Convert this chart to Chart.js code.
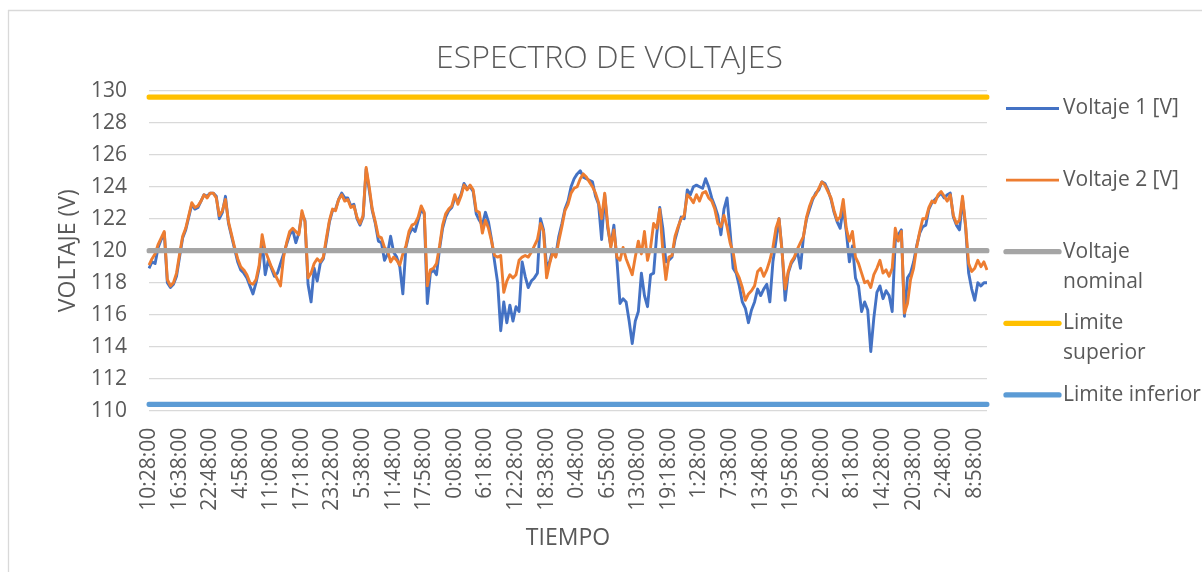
<!DOCTYPE html>
<html>
<head>
<meta charset="utf-8">
<title>Espectro de voltajes</title>
<script src="https://cdn.jsdelivr.net/npm/chart.js@4.4.0/dist/chart.umd.min.js"></script>
<style>
  html, body { margin: 0; padding: 0; background: #ffffff; }
  #wrap { position: relative; width: 1202px; height: 572px; }
</style>
</head>
<body>
<div id="wrap"><canvas id="chart" width="1202" height="572"></canvas></div>
<script>
// Muestras cada 37 minutos a partir de las 10:28:00
const START_TIME = '10:28:00';
const STEP_MINUTES = 37;
const LABEL_EVERY = 10;

const TICK_LABELS = [
  '10:28:00', '16:38:00', '22:48:00', '4:58:00', '11:08:00', '17:18:00', '23:28:00',
  '5:38:00', '11:48:00', '17:58:00', '0:08:00', '6:18:00', '12:28:00', '18:38:00',
  '0:48:00', '6:58:00', '13:08:00', '19:18:00', '1:28:00', '7:38:00', '13:48:00',
  '19:58:00', '2:08:00', '8:18:00', '14:28:00', '20:38:00', '2:48:00', '8:58:00'
];

const VOLTAJE_1 = [
  118.9, 119.3, 119.2, 120.2, 120.7, 121.1, 118.0, 117.7, 117.9, 118.4,
  119.6, 120.8, 121.3, 122.1, 122.9, 122.6, 122.7, 123.1, 123.5, 123.4,
  123.6, 123.6, 123.4, 122.0, 122.4, 123.4, 121.7, 120.9, 120.1, 119.3,
  118.8, 118.6, 118.3, 117.8, 117.3, 118.0, 118.9, 120.6, 118.5, 119.4,
  118.9, 118.4, 118.6, 119.2, 119.8, 120.4, 121.0, 121.3, 120.5, 121.1,
  122.3, 121.9, 117.9, 116.8, 118.9, 118.1, 119.2, 119.5, 120.6, 121.8,
  122.5, 122.6, 123.2, 123.6, 123.3, 123.3, 122.8, 122.9, 122.0, 121.6,
  122.1, 125.1, 123.8, 122.5, 121.7, 120.6, 120.5, 119.4, 119.8, 120.9,
  119.9, 119.6, 119.0, 117.3, 120.2, 121.0, 121.4, 121.2, 121.9, 122.6,
  122.3, 116.7, 118.6, 118.8, 118.5, 120.1, 121.4, 122.1, 122.5, 122.7,
  123.3, 123.1, 123.5, 124.2, 123.9, 124.0, 123.7, 122.3, 121.9, 121.6,
  122.4, 121.8, 120.7, 119.3, 118.0, 115.0, 116.8, 115.5, 116.6, 115.6,
  116.5, 116.2, 119.3, 118.4, 117.7, 118.1, 118.3, 118.6, 122.0, 121.3,
  119.0, 119.3, 120.1, 119.7, 120.9, 121.7, 122.6, 123.1, 124.0, 124.5,
  124.8, 125.0, 124.6, 124.5, 124.4, 124.3, 123.4, 122.9, 120.7, 123.5,
  121.4, 120.3, 121.6, 119.4, 116.7, 117.0, 116.8, 115.6, 114.2, 115.6,
  116.2, 118.6, 117.2, 116.5, 118.5, 118.6, 121.0, 122.7, 121.4, 119.3,
  119.4, 119.6, 120.7, 121.4, 122.1, 122.0, 123.8, 123.5, 124.0, 124.1,
  124.0, 123.9, 124.5, 124.0, 123.3, 122.8, 122.2, 121.0, 122.6, 123.3,
  121.2, 118.9, 118.6, 117.8, 116.8, 116.4, 115.5, 116.3, 116.8, 117.6,
  117.2, 117.6, 117.9, 116.8, 119.3, 120.6, 122.0, 120.0, 116.9, 118.6,
  119.2, 119.5, 120.0, 118.9, 120.9, 122.0, 122.6, 123.2, 123.6, 123.8,
  124.3, 124.2, 123.8, 123.2, 122.4, 121.8, 121.4, 122.7, 121.2, 119.3,
  120.3, 118.3, 117.8, 116.2, 116.8, 116.3, 113.7, 115.8, 117.4, 117.8,
  117.0, 117.5, 117.2, 116.2, 120.6, 121.0, 121.3, 115.9, 118.3, 118.6,
  119.3, 120.3, 121.1, 121.5, 121.6, 122.6, 123.0, 123.2, 123.4, 123.6,
  123.3, 123.5, 123.6, 122.1, 121.6, 121.3, 123.2, 121.5, 118.6, 117.6,
  116.9, 118.0, 117.8, 118.0, 118.0
];

const VOLTAJE_2 = [
  119.1, 119.5, 119.8, 120.4, 120.8, 121.2, 118.2, 117.8, 118.0, 118.6,
  119.8, 120.9, 121.4, 122.2, 123.0, 122.7, 122.8, 123.1, 123.5, 123.3,
  123.6, 123.6, 123.3, 122.2, 122.5, 123.2, 121.8, 121.0, 120.2, 119.5,
  119.0, 118.8, 118.5, 118.0, 117.9, 118.2, 119.1, 121.0, 120.0, 119.5,
  119.0, 118.6, 118.2, 117.8, 119.6, 120.5, 121.2, 121.4, 121.2, 121.0,
  122.5, 121.8, 118.3, 118.6, 119.2, 119.5, 119.3, 119.6, 120.8, 121.9,
  122.6, 122.5, 123.2, 123.5, 123.1, 123.2, 122.7, 122.8, 122.1, 121.7,
  122.2, 125.2, 124.0, 122.6, 121.8, 120.9, 120.8, 120.2, 120.0, 119.3,
  119.6, 119.4, 119.1, 119.8, 120.3, 121.2, 121.6, 121.7, 122.1, 122.8,
  122.4, 117.8, 118.8, 118.9, 119.2, 120.3, 121.6, 122.3, 122.6, 122.8,
  123.5, 122.9, 123.4, 124.1, 123.8, 124.1, 123.8, 122.5, 122.4, 121.1,
  121.9, 121.4, 120.6, 119.7, 119.6, 119.7, 117.4, 118.1, 118.5, 118.3,
  118.5, 119.4, 119.6, 119.7, 119.6, 119.9, 120.3, 120.7, 121.7, 121.2,
  118.3, 119.2, 119.9, 119.6, 120.6, 121.5, 122.5, 122.9, 123.6, 123.9,
  124.0, 124.5, 124.8, 124.6, 124.3, 124.0, 123.6, 123.0, 122.0, 123.6,
  121.6, 120.2, 121.3, 119.6, 119.4, 120.2, 119.5, 119.0, 118.5, 119.6,
  120.6, 119.8, 121.2, 119.4, 120.2, 121.7, 121.4, 122.6, 120.0, 118.2,
  119.6, 119.7, 120.9, 121.5, 122.0, 122.2, 123.5, 123.3, 123.0, 123.5,
  123.1, 123.6, 123.7, 123.3, 123.1, 122.6, 121.7, 121.5, 122.2, 121.5,
  120.5, 119.9, 118.7, 118.3, 117.7, 116.9, 117.3, 117.5, 117.8, 118.7,
  118.9, 118.4, 118.8, 119.4, 120.2, 121.4, 122.0, 119.9, 117.6, 118.7,
  119.3, 119.6, 120.1, 120.5, 120.9, 122.1, 122.8, 123.3, 123.5, 123.9,
  124.3, 124.1, 123.7, 123.3, 122.5, 121.9, 122.1, 123.2, 121.4, 120.6,
  121.2, 119.6, 119.2, 118.6, 118.0, 118.1, 117.7, 118.5, 118.9, 119.4,
  118.6, 118.8, 118.4, 118.9, 121.4, 120.6, 121.2, 116.1, 116.7, 118.2,
  118.9, 120.2, 121.2, 122.0, 122.0, 122.7, 123.1, 123.0, 123.5, 123.7,
  123.4, 123.1, 123.5, 122.2, 121.7, 121.9, 123.4, 121.6, 119.2, 118.7,
  118.9, 119.4, 119.0, 119.3, 118.8
];

const VOLTAJE_NOMINAL = 120;
const LIMITE_SUPERIOR = 129.6;
const LIMITE_INFERIOR = 110.4;

const Y_MIN = 110;
const Y_MAX = 130;
const Y_STEP = 2;

// Marcas de tiempo de cada muestra (categorías del eje X)
function buildTimes(start, step, count) {
  const [h, m, s] = start.split(':').map(Number);
  const base = h * 60 + m;
  const out = [];
  for (let i = 0; i < count; i++) {
    const t = (base + i * step) % (24 * 60);
    const hh = Math.floor(t / 60);
    const mm = String(t % 60).padStart(2, '0');
    out.push(hh + ':' + mm + ':' + String(s).padStart(2, '0'));
  }
  return out;
}
const CATEGORIES = buildTimes(START_TIME, STEP_MINUTES, VOLTAJE_1.length);
const constantLine = (v) => CATEGORIES.map(() => v);

const FONT = "'Open Sans', 'Liberation Sans', sans-serif";
const TEXT = '#595959';
const GRID = '#D9D9D9';

// Fondo blanco y marco exterior del gráfico
const framePlugin = {
  id: 'frame',
  beforeDraw(chart) {
    const ctx = chart.ctx;
    ctx.save();
    ctx.fillStyle = '#ffffff';
    ctx.fillRect(0, 0, chart.width, chart.height);
    ctx.strokeStyle = GRID;
    ctx.lineWidth = 1.3;
    ctx.beginPath();
    ctx.moveTo(8, 10.5);
    ctx.lineTo(chart.width, 10.5);
    ctx.moveTo(8.5, 10);
    ctx.lineTo(8.5, chart.height);
    ctx.stroke();
    ctx.restore();
  }
};

// Leyenda a la derecha, con etiquetas en una o dos líneas
const sideLegend = {
  id: 'sideLegend',
  afterDraw(chart, args, opts) {
    const ctx = chart.ctx;
    const entries = chart.data.datasets;
    ctx.save();
    ctx.font = `${opts.fontSize}px ${FONT}`;
    ctx.fillStyle = TEXT;
    ctx.textBaseline = 'middle';
    ctx.textAlign = 'left';
    entries.forEach((ds, i) => {
      const y = opts.top + i * opts.step;
      ctx.strokeStyle = ds.borderColor;
      ctx.lineWidth = ds.borderWidth;
      ctx.lineCap = ds.borderWidth > 3.5 ? 'round' : 'butt';
      ctx.beginPath();
      ctx.moveTo(opts.lineStart, y);
      ctx.lineTo(opts.lineEnd, y);
      ctx.stroke();
      const lines = ds.legendLines || [ds.label];
      lines.forEach((txt, k) => {
        ctx.fillText(txt, opts.textX, y + k * opts.lineGap);
      });
    });
    ctx.restore();
  }
};

new Chart(document.getElementById('chart'), {
  type: 'line',
  data: {
    labels: CATEGORIES,
    datasets: [
      {
        label: 'Voltaje 1 [V]', data: VOLTAJE_1,
        borderColor: '#4472C4', borderWidth: 2.9, order: 5
      },
      {
        label: 'Voltaje 2 [V]', data: VOLTAJE_2,
        borderColor: '#ED7D31', borderWidth: 2.9, order: 4
      },
      {
        label: 'Voltaje nominal', legendLines: ['Voltaje', 'nominal'],
        data: constantLine(VOLTAJE_NOMINAL),
        borderColor: '#A5A5A5', borderWidth: 5.3, borderCapStyle: 'round', order: 3
      },
      {
        label: 'Limite superior', legendLines: ['Limite', 'superior'],
        data: constantLine(LIMITE_SUPERIOR),
        borderColor: '#FFC000', borderWidth: 5.3, borderCapStyle: 'round', order: 2
      },
      {
        label: 'Limite inferior',
        data: constantLine(LIMITE_INFERIOR),
        borderColor: '#5B9BD5', borderWidth: 5.3, borderCapStyle: 'round', order: 1
      }
    ]
  },
  options: {
    responsive: false,
    animation: false,
    devicePixelRatio: 1,
    layout: { padding: { left: 17, right: 0, top: 0, bottom: 0 } },
    elements: {
      point: { radius: 0, hoverRadius: 0 },
      line: { tension: 0, borderJoinStyle: 'round', fill: false }
    },
    plugins: {
      legend: { display: false },
      tooltip: { enabled: false },
      title: {
        display: true,
        text: 'ESPECTRO DE VOLTAJES',
        color: TEXT,
        font: { family: FONT, size: 32, weight: '300', lineHeight: 1.2 },
        padding: { top: 40, bottom: 12.3 }
      },
      sideLegend: {
        top: 108.5, step: 71.6, lineGap: 30,
        lineStart: 1006, lineEnd: 1059, textX: 1063, fontSize: 21
      }
    },
    scales: {
      x: {
        type: 'category',
        grid: { display: false, drawTicks: false },
        border: { display: false },
        ticks: {
          autoSkip: false,
          minRotation: 90,
          maxRotation: 90,
          padding: 17,
          color: TEXT,
          font: { family: FONT, size: 21 },
          callback: (value, index) => index % LABEL_EVERY === 0 ? TICK_LABELS[index / LABEL_EVERY] : ''
        },
        title: {
          display: true, text: 'TIEMPO', color: TEXT,
          font: { family: FONT, size: 23, lineHeight: 1.2 },
          padding: { top: 0, bottom: 20 }
        },
        afterFit(scale) { scale.height = 161.3; }
      },
      y: {
        min: Y_MIN, max: Y_MAX,
        grid: { color: GRID, lineWidth: 1.3, drawTicks: false },
        border: { display: false },
        ticks: {
          stepSize: Y_STEP, padding: 22, color: TEXT,
          font: { family: FONT, size: 21 }
        },
        title: {
          display: true, text: 'VOLTAJE (V)', color: TEXT,
          font: { family: FONT, size: 23, lineHeight: 1.2 },
          padding: { top: 38, bottom: 0 }
        },
        afterFit(scale) { scale.width = 132; }
      },
      legendSpace: {
        position: 'right',
        display: true,
        grid: { display: false, drawTicks: false },
        border: { display: false },
        ticks: { display: false },
        afterFit(scale) { scale.width = 215; }
      }
    }
  },
  plugins: [framePlugin, sideLegend]
});
</script>
</body>
</html>
